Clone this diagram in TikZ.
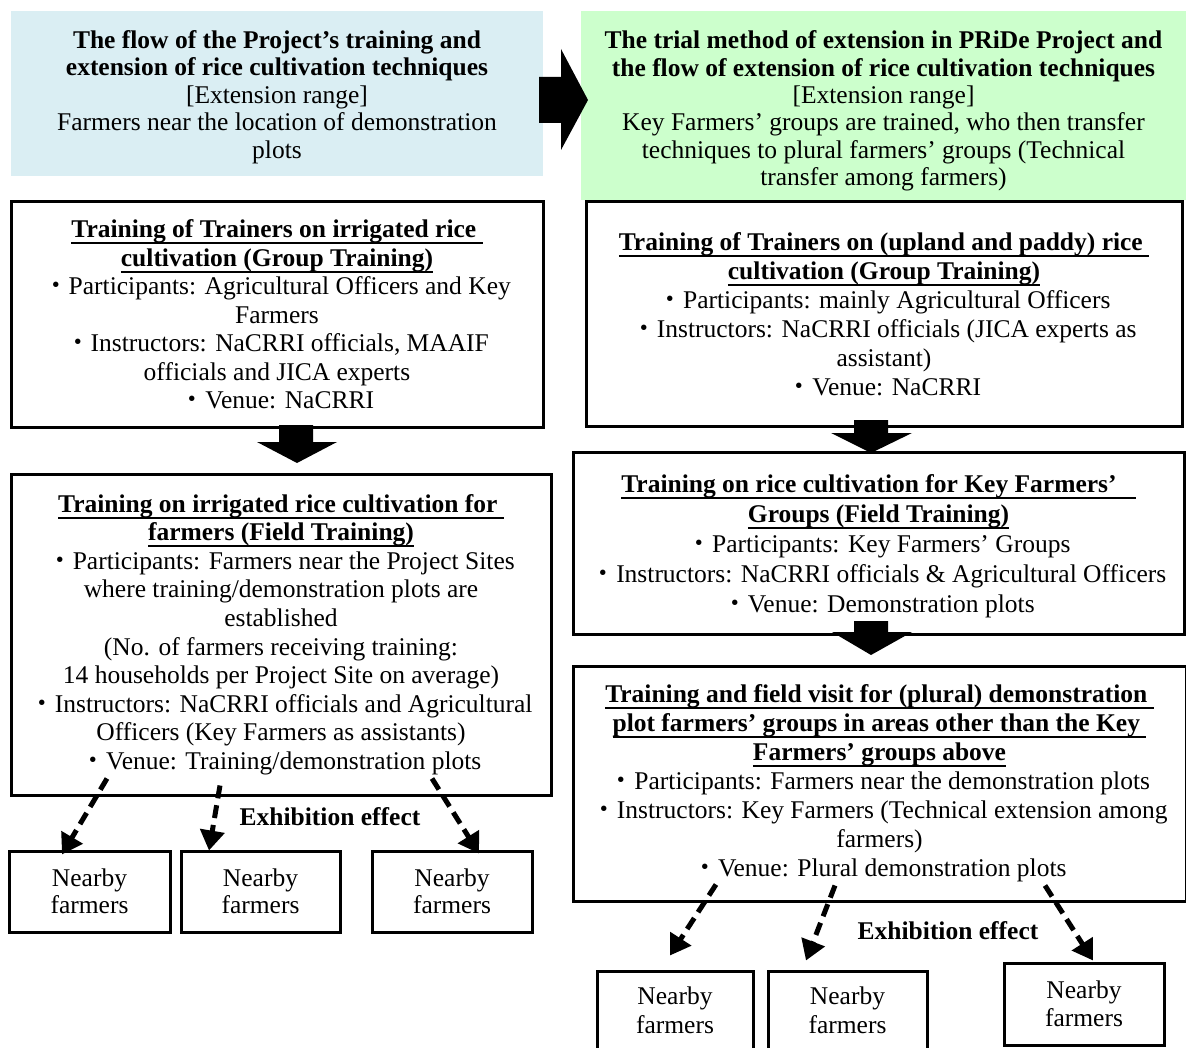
\documentclass[tikz,border=0pt]{standalone}
\usepackage{fontspec}
\setmainfont{Liberation Serif}
\newfontfamily\cjk{Noto Sans CJK JP}
\usetikzlibrary{arrows.meta,calc}
\definecolor{hdrblue}{HTML}{DAEEF3}
\definecolor{hdrgreen}{HTML}{CCFFCC}
\newcommand\mytitle[1]{\setbox0\hbox{\bfseries #1}\leavevmode\rlap{\rule[-6.5pt]{\wd0}{1.8pt}}\box0}
\newcommand\bul{{\cjk ・}}
\tikzset{
  box/.style={draw, line width=3pt, inner sep=0pt, align=center},
  hdr/.style={inner sep=0pt, align=center},
  blockarrow/.style={fill=black, draw=none},
  exh/.style={-{Triangle[length=20pt,width=24pt]}, line width=5pt, dash pattern=on 13pt off 7pt},
  fs/.style={font=\fontsize{25.5}{#1}\selectfont},
}
\begin{document}
\begin{tikzpicture}[x=1pt,y=-1pt]
\fill[white] (0,0) rectangle (1186,1048);
\useasboundingbox (0,0) rectangle (1186,1048);

% header boxes
\node[hdr, fill=hdrblue, minimum width=532pt, minimum height=165pt] (hb) at (277,93.5) {};
\node[hdr, fs=27.4] (hbt) at ($(hb.center)+(0,3.5)$)
 {\textbf{The flow of the Project’s training and}\\
  \textbf{extension of rice cultivation techniques}\\
  {[}Extension range{]}\\
  Farmers near the location of demonstration\\
  plots};

\node[hdr, fill=hdrgreen, minimum width=605pt, minimum height=189pt] (hg) at (883.5,105.5) {};
\node[hdr, fs=27.3] (hgt) at ($(hg.center)+(0,5.5)$)
 {\textbf{The trial method of extension in PRiDe Project and}\\
  \textbf{the flow of extension of rice cultivation techniques}\\
  {[}Extension range{]}\\
  Key Farmers’ groups are trained, who then transfer\\
  techniques to plural farmers’ groups (Technical\\
  transfer among farmers)};

\fill[blockarrow] (539,77) -- (561,77) -- (561,49) -- (588,100) -- (561,150) -- (561,123) -- (539,123) -- cycle;

% left column
\node[box, minimum width=532pt, minimum height=225pt, fs=28.5] (L1) at (277,314.5)
 {\mytitle{Training of Trainers on irrigated rice\ }\\
  \mytitle{cultivation (Group Training)}\\
  \bul Participants: Agricultural Officers and Key\\
  Farmers\\
  \bul Instructors: NaCRRI officials, MAAIF\\
  officials and JICA experts\\
  \bul Venue: NaCRRI};

\node[box, minimum width=540pt, minimum height=321pt, fs=28.6] (L2) at (281,634.5)
 {\mytitle{Training on irrigated rice cultivation for\ }\\
  \mytitle{farmers (Field Training)}\\
  \bul Participants: Farmers near the Project Sites\\
  where training/demonstration plots are\\
  established\\
  (No. of farmers receiving training:\\
  14 households per Project Site on average)\\
  \bul Instructors: NaCRRI officials and Agricultural\\
  Officers (Key Farmers as assistants)\\
  \bul Venue: Training/demonstration plots};

\fill[blockarrow] (279,425) -- (313,425) -- (313,442) -- (337,442) -- (297,463) -- (257,442) -- (279,442) -- cycle;

\node[box, minimum width=161pt, minimum height=81pt, fs=27] (na) at (89.5,891.5) {Nearby\\farmers};
\node[box, minimum width=159pt, minimum height=81pt, fs=27] (nb) at (260.5,891.5) {Nearby\\farmers};
\node[box, minimum width=160pt, minimum height=81pt, fs=27] (nc) at (452,891.5) {Nearby\\farmers};

\node[font=\fontsize{25.5}{28}\selectfont\bfseries, inner sep=0pt] (ex1) at (330,817) {Exhibition effect};

\draw[exh] ($(L2.south)+(-174,-18)$) -- ($(na.north)+(-27.5,5)$);
\draw[exh] ($(L2.south)+(-61,-11)$) -- ($(nb.north)+(-51.5,1)$);
\draw[exh] ($(L2.south)+(151,-18)$) -- ($(nc.north)+(27,4)$);

% right column
\node[box, minimum width=596pt, minimum height=224pt, fs=29] (R1) at (884,314)
 {\mytitle{Training of Trainers on (upland and paddy) rice\ }\\
  \mytitle{cultivation (Group Training)}\\
  \bul Participants: mainly Agricultural Officers\\
  \bul Instructors: NaCRRI officials (JICA experts as\\
  assistant)\\
  \bul Venue: NaCRRI};

\node[box, minimum width=611pt, minimum height=182pt] (R2) at (878.5,543) {};
\node[hdr, fs=30] (R2t) at ($(R2.center)+(0,3)$)
 {\mytitle{Training on rice cultivation for Key Farmers’\ \ \ }\\
  \mytitle{Groups (Field Training)}\\
  \bul Participants: Key Farmers’ Groups\\
  \bul Instructors: NaCRRI officials \& Agricultural Officers\\
  \bul Venue: Demonstration plots};

\node[box, minimum width=613pt, minimum height=235pt, fs=29] (R3) at (879.5,783.5)
 {\mytitle{Training and field visit for (plural) demonstration\ }\\
  \mytitle{plot farmers’ groups in areas other than the Key\ }\\
  \mytitle{Farmers’ groups above}\\
  \bul Participants: Farmers near the demonstration plots\\
  \bul Instructors: Key Farmers (Technical extension among\\
  farmers)\\
  \bul Venue: Plural demonstration plots};

\fill[blockarrow] (854,420) -- (888,420) -- (888,433) -- (912,433) -- (871,453) -- (831,433) -- (854,433) -- cycle;
\fill[blockarrow] (854,621) -- (888,621) -- (888,632) -- (912,632) -- (871,655) -- (832,632) -- (854,632) -- cycle;

\node[box, minimum width=156pt, minimum height=79pt, fs=29] (rna) at (675,1010.5) {Nearby\\farmers};
\node[box, minimum width=159pt, minimum height=79pt, fs=29] (rnb) at (847.5,1010.5) {Nearby\\farmers};
\node[box, minimum width=160pt, minimum height=82pt, fs=28] (rnc) at (1084,1004) {Nearby\\farmers};

\node[font=\fontsize{25.5}{28}\selectfont\bfseries, inner sep=0pt] (ex2) at (948,931) {Exhibition effect};

\draw[exh] ($(R3.south)+(-163.5,-18)$) -- ($(rna.north)+(-5,-14)$);
\draw[exh] ($(R3.south)+(-44.5,-17)$) -- ($(rnb.north)+(-41.5,-9)$);
\draw[exh] ($(R3.south)+(165.5,-17)$) -- ($(rnc.north)+(9,-1)$);
\end{tikzpicture}
\end{document}
